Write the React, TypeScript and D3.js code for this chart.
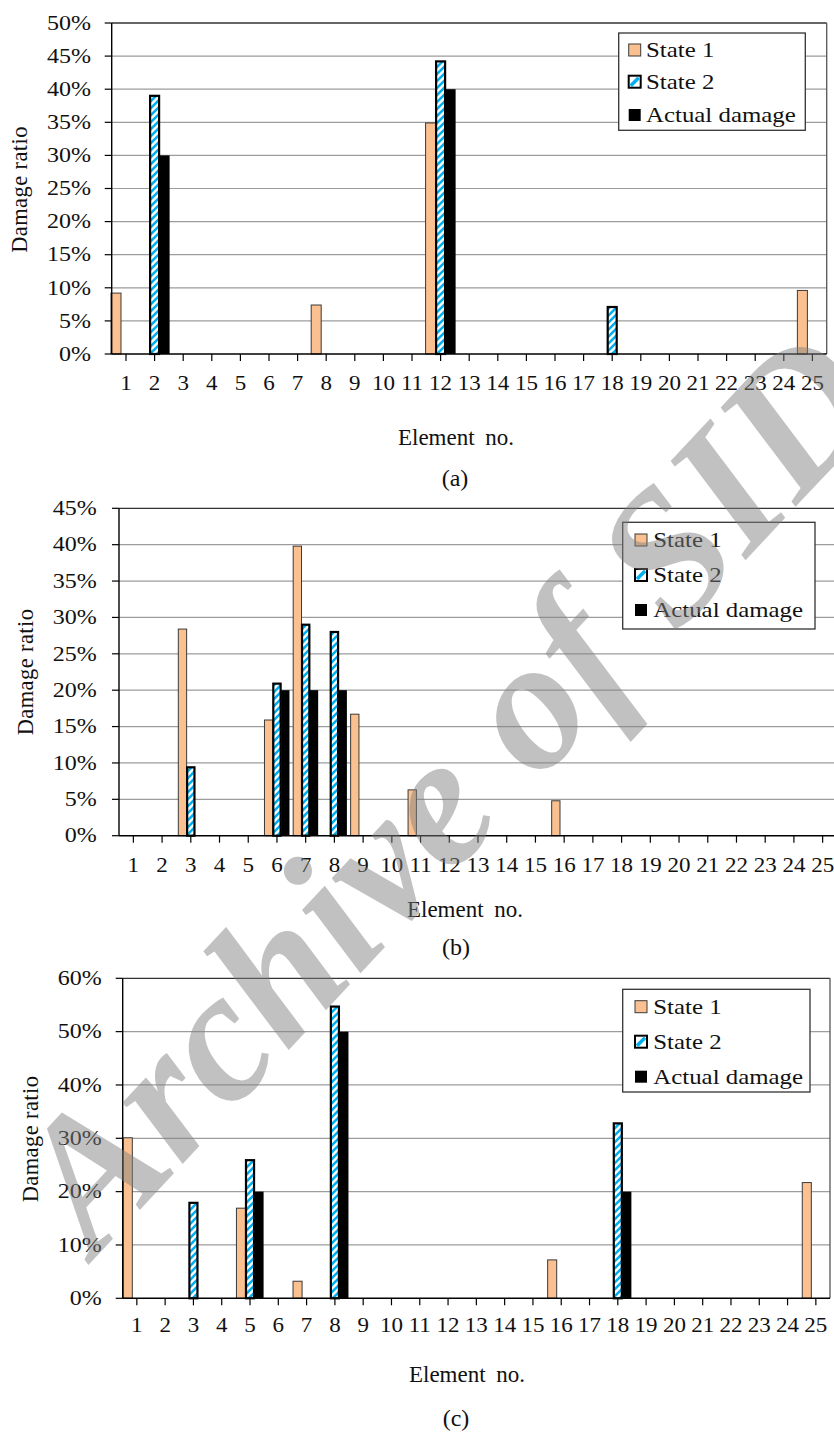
import React from 'react';
import * as d3 from 'd3';

const ELEMENTS = ['1','2','3','4','5','6','7','8','9','10','11','12','13','14','15','16','17','18','19','20','21','22','23','24','25'];
const SERIES = ['State 1', 'State 2', 'Actual damage'];

// Panel (a) values in %
const A_STATE1 = [9.2,0,0,0,0,0,0,7.4,0,0,0,34.9,0,0,0,0,0,0,0,0,0,0,0,0,9.6];
const A_STATE2 = [0,39.0,0,0,0,0,0,0,0,0,0,44.2,0,0,0,0,0,7.1,0,0,0,0,0,0,0];
const A_ACTUAL = [0,30,0,0,0,0,0,0,0,0,0,40,0,0,0,0,0,0,0,0,0,0,0,0,0];

// Panel (b)
const B_STATE1 = [0,0,28.4,0,0,15.9,39.8,0,16.7,0,6.3,0,0,0,0,4.8,0,0,0,0,0,0,0,0,0];
const B_STATE2 = [0,0,9.4,0,0,20.9,29.0,28.0,0,0,0,0,0,0,0,0,0,0,0,0,0,0,0,0,0];
const B_ACTUAL = [0,0,0,0,0,20,20,20,0,0,0,0,0,0,0,0,0,0,0,0,0,0,0,0,0];

// Panel (c)
const C_STATE1 = [30.1,0,0,0,16.9,0,3.2,0,0,0,0,0,0,0,0,7.2,0,0,0,0,0,0,0,0,21.7];
const C_STATE2 = [0,0,17.9,0,25.9,0,0,54.7,0,0,0,0,0,0,0,0,0,32.8,0,0,0,0,0,0,0];
const C_ACTUAL = [0,0,0,0,20,0,0,50,0,0,0,0,0,0,0,0,0,20,0,0,0,0,0,0,0];

const Y_MAX = [50, 45, 60];
const Y_STEP = [5, 5, 10];
const CAPTIONS = ['(a)', '(b)', '(c)'];

const ORANGE = '#FAC090';
const CYAN = '#00B0F0';
const FONT = '"Liberation Serif", "Times New Roman", serif';

const LAYOUT = [
  { left: 111.7, right: 826.7, top: 23, bottom: 354, rightBorder: true, barFrac: 0.35,
    yLabelX: 91, xLabelY: 390, titleX: 456, titleY: 445, capX: 455, capY: 486,
    yTitleX: 27, yTitleY: 189.5, legend: { x: 618.7, y: 33, w: 186.6, h: 97.3, rows: [17, 48.7, 82], sw: 10, tx: 27.3 } },
  { left: 119, right: 837, top: 508.3, bottom: 835.7, rightBorder: false, barFrac: 0.29,
    yLabelX: 96.7, xLabelY: 871.7, titleX: 465, titleY: 917, capX: 456, capY: 955,
    yTitleX: 33, yTitleY: 672, legend: { x: 622.7, y: 522.3, w: 192.3, h: 106.7, rows: [17.7, 52.7, 87.7], sw: 12.3, tx: 30.6 } },
  { left: 122.7, right: 830, top: 978.3, bottom: 1298.3, rightBorder: true, barFrac: 0.32,
    yLabelX: 101.7, xLabelY: 1331.7, titleX: 467, titleY: 1382, capX: 456, capY: 1426,
    yTitleX: 38, yTitleY: 1139, legend: { x: 622.7, y: 989.3, w: 187.3, h: 102.7, rows: [17.4, 52.4, 87.4], sw: 12.3, tx: 30.6 } },
];

function T({ x, y, sx = 1, anchor = 'middle', size = 20, children, baseline, ls = 0, ws = 0, rotate = 0 }: any) {
  return (
    <text
      transform={`translate(${x},${y}) rotate(${rotate}) scale(${sx},1)`}
      textAnchor={anchor}
      dominantBaseline={baseline}
      fontFamily={FONT}
      fontSize={size}
      letterSpacing={ls}
      wordSpacing={ws}
      fill="#111"
    >
      {children}
    </text>
  );
}

function Panel({ idx, s1, s2, act }: any) {
  const L = LAYOUT[idx];
  const yMax = Y_MAX[idx];
  const x = d3.scaleBand<string>().domain(ELEMENTS).range([L.left, L.right]).padding(0);
  const y = d3.scaleLinear().domain([0, yMax]).range([L.bottom, L.top]);
  const ticks = d3.range(0, yMax + 1e-6, Y_STEP[idx]);
  const step = x.bandwidth();
  const bw = step * L.barFrac;
  const seriesVals = [s1, s2, act];
  const clipRight = Math.min(L.right, 834);

  return (
    <g>
      {ticks.slice(1, -1).map((t) => (
        <line key={'g' + t} x1={L.left} x2={clipRight} y1={y(t)} y2={y(t)} stroke="#9c9c9c" strokeWidth={1.2} />
      ))}
      <line x1={L.left} x2={clipRight} y1={L.top} y2={L.top} stroke="#333" strokeWidth={1.3} />
      {L.rightBorder && <line x1={L.right} x2={L.right} y1={L.top} y2={L.bottom} stroke="#555" strokeWidth={1.3} />}
      {ELEMENTS.map((e, i) => {
        const cx = (x(e) as number) + step / 2;
        const x0 = cx - (3 * bw) / 2;
        return (
          <g key={'b' + e}>
            {seriesVals.map((vals: number[], k: number) => {
              const v = vals[i];
              if (!v) return null;
              const bx = x0 + k * bw;
              const by = y(v);
              const h = y(0) - by;
              if (k === 0)
                return <rect key={k} x={bx} y={by} width={bw} height={h} fill={ORANGE} stroke="#3a3a3a" strokeWidth={1} />;
              if (k === 1)
                return <rect key={k} x={bx + 0.5} y={by} width={bw - 1} height={h} fill="url(#stripes)" stroke="#000" strokeWidth={2.2} />;
              return <rect key={k} x={bx} y={by} width={bw} height={h} fill="#000" />;
            })}
          </g>
        );
      })}
      <line x1={L.left} x2={L.left} y1={L.top} y2={L.bottom} stroke="#000" strokeWidth={1.4} />
      <line x1={L.left} x2={clipRight} y1={L.bottom} y2={L.bottom} stroke="#000" strokeWidth={1.4} />
      {ticks.map((t) => (
        <g key={'yt' + t}>
          <line x1={L.left - 7} x2={L.left} y1={y(t)} y2={y(t)} stroke="#000" strokeWidth={1.2} />
          <T x={L.yLabelX} y={y(t)} anchor="end" baseline="central" sx={1.2} size={20}>{`${t}%`}</T>
        </g>
      ))}
      {ELEMENTS.map((e) => {
        const cx = (x(e) as number) + step / 2;
        return (
          <g key={'xt' + e}>
            <line x1={cx} x2={cx} y1={L.bottom} y2={L.bottom + 7} stroke="#000" strokeWidth={1.2} />
            <T x={cx} y={L.xLabelY} sx={1.15} size={20}>{e}</T>
          </g>
        );
      })}
      <T x={L.titleX} y={L.titleY} size={23} ws={5}>Element no.</T>
      <T x={L.yTitleX} y={L.yTitleY} size={22.5} rotate={-90} ls={0.4}>Damage ratio</T>
      <T x={L.capX} y={L.capY} size={24}>{CAPTIONS[idx]}</T>
      <g transform={`translate(${L.legend.x},${L.legend.y})`}>
        <rect x={0} y={0} width={L.legend.w} height={L.legend.h} fill="#fff" stroke="#333" strokeWidth={1.3} />
        {SERIES.map((s, k) => {
          const ry = L.legend.rows[k];
          const sw = 12;
          const sx0 = L.legend.sw;
          return (
            <g key={s}>
              {k === 0 && <rect x={sx0} y={ry - sw / 2} width={sw} height={sw} fill={ORANGE} stroke="#3a3a3a" strokeWidth={1} />}
              {k === 1 && (
                <g>
                  <rect x={sx0} y={ry - sw / 2} width={sw} height={sw} fill="#fff" stroke="#000" strokeWidth={2} />
                  <path d={`M${sx0 + 2},${ry + sw / 2 - 2} L${sx0 + sw - 2},${ry - sw / 2 + 2}`} stroke={CYAN} strokeWidth={3.5} />
                </g>
              )}
              {k === 2 && <rect x={sx0} y={ry - sw / 2} width={sw} height={sw} fill="#000" />}
              <T x={L.legend.tx} y={ry} anchor="start" baseline="central" size={22} sx={1.13}>{s}</T>
            </g>
          );
        })}
      </g>
    </g>
  );
}

export default function App() {
  return (
    <svg width={834} height={1433} viewBox="0 0 834 1433" style={{ position: 'absolute', left: 0, top: 0, background: '#fff' }}>
      <defs>
        <pattern id="stripes" patternUnits="userSpaceOnUse" width={7} height={7}>
          <rect width={7} height={7} fill="#fff" />
          <path d="M-2,2 L2,-2 M0,7 L7,0 M5,9 L9,5" stroke={CYAN} strokeWidth={2.6} />
        </pattern>
      </defs>
      <rect width={834} height={1433} fill="#fff" />
      <Panel idx={0} s1={A_STATE1} s2={A_STATE2} act={A_ACTUAL} />
      <Panel idx={1} s1={B_STATE1} s2={B_STATE2} act={B_ACTUAL} />
      <Panel idx={2} s1={C_STATE1} s2={C_STATE2} act={C_ACTUAL} />
      <text
        transform="translate(95,1258) rotate(-47)"
        fontFamily={FONT}
        fontWeight="bold"
        fontStyle="italic"
        fontSize={187}
        fill="#808080"
        opacity={0.48}
        textAnchor="start"
      >
        Archive of SID
      </text>
    </svg>
  );
}
